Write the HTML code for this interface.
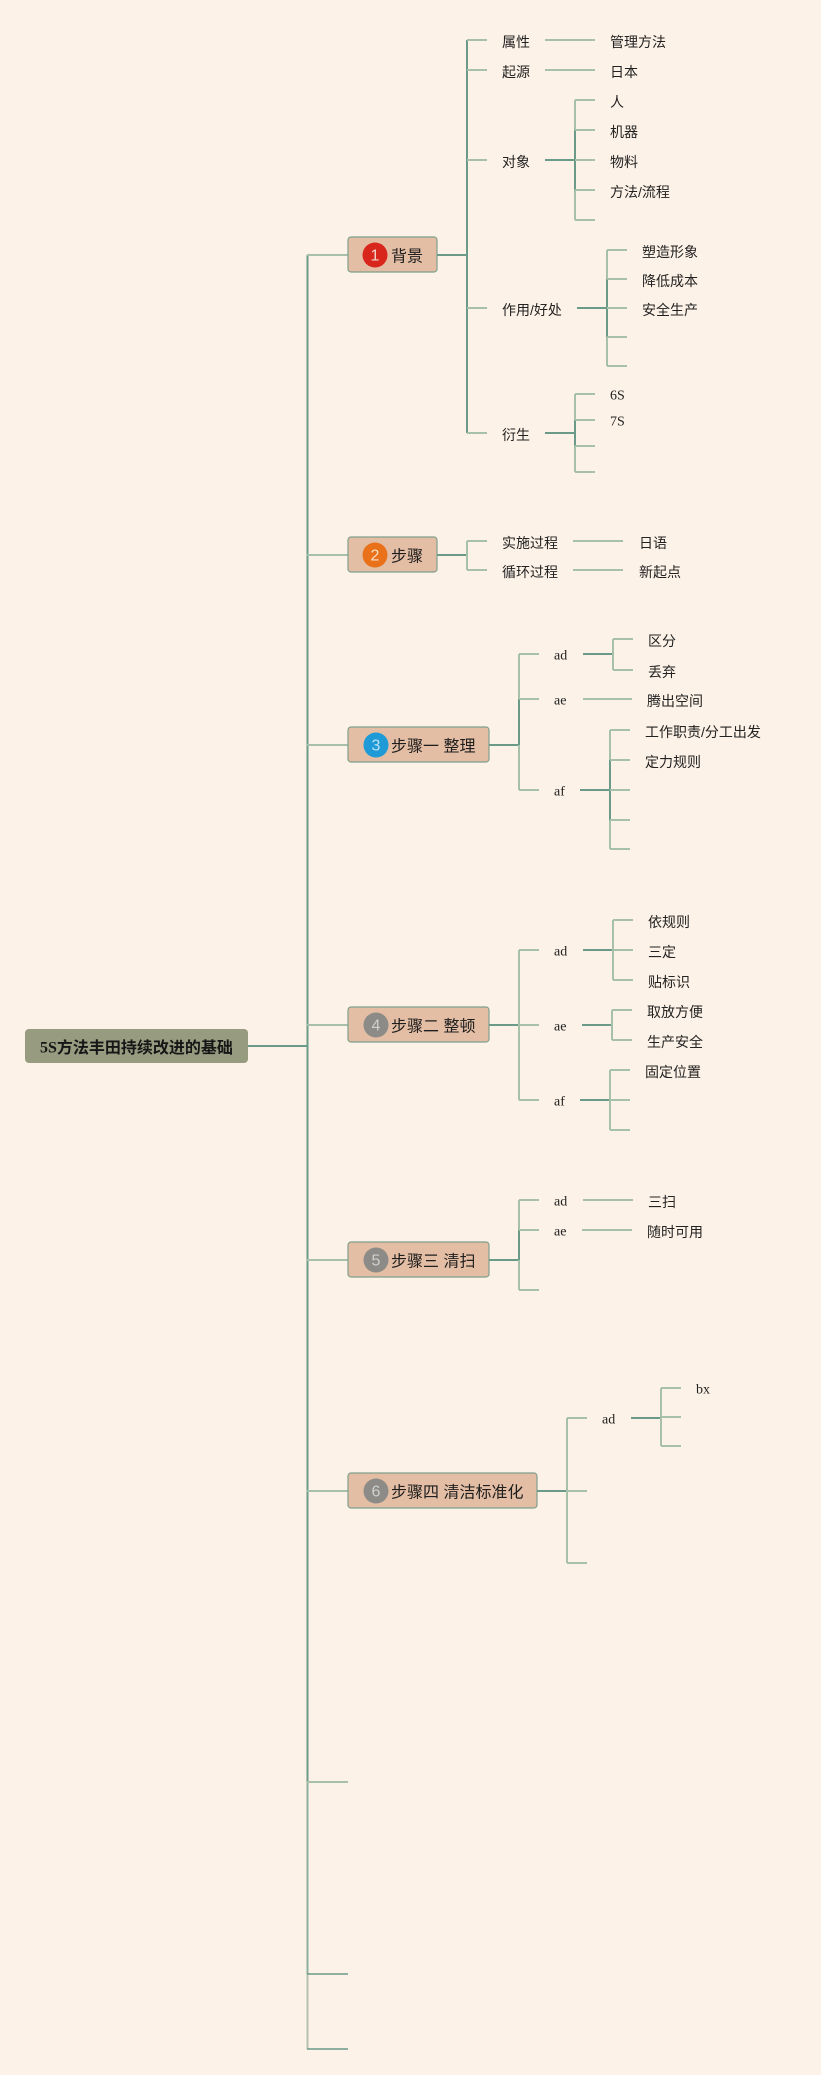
<!DOCTYPE html>
<html>
<head>
<meta charset="utf-8">
<style>
html,body{margin:0;padding:0;background:#fdf2e7;}
svg{display:block;}
text{transform:translateY(1px);}
.t{font-family:"Liberation Sans","Noto Sans CJK SC",sans-serif;font-size:14px;fill:#222;dominant-baseline:central;}
.s{font-family:"Liberation Serif","Noto Serif CJK SC",serif;font-size:14px;fill:#222;dominant-baseline:central;}
.n{font-family:"Liberation Sans","Noto Sans CJK SC",sans-serif;font-size:16px;fill:#1e1e1e;dominant-baseline:central;}
.c{font-family:"Liberation Sans",sans-serif;font-size:16px;dominant-baseline:central;text-anchor:middle;}
.d{stroke:#6a9a88;stroke-width:2;fill:none;}
.l{stroke:#a6c0aa;stroke-width:2;fill:none;}
.box{fill:#e3bda4;stroke:#7fa08c;stroke-width:1.2;}
</style>
</head>
<body>
<svg width="821" height="2075" viewBox="0 0 821 2075" xmlns="http://www.w3.org/2000/svg">
<rect x="0" y="0" width="821" height="2075" fill="#fdf2e7"/>

<!-- trunk -->
<line class="d" x1="307.5" y1="255" x2="307.5" y2="1782"/>
<line x1="307.5" y1="1782" x2="307.5" y2="1974" stroke="#8fb09e" stroke-width="2"/>
<line x1="307.5" y1="1974" x2="307.5" y2="2049" stroke="#b5c3ae" stroke-width="2"/>
<line class="d" x1="248" y1="1046" x2="307.5" y2="1046"/>

<!-- trunk branches -->
<path class="l" d="M307 255H348M307 555H348M307 745H348M307 1025H348M307 1260H348M307 1491H348M307 1782H348"/>
<path d="M307 1974H348M307 2049H348" stroke="#6a9a88" stroke-width="1.5" fill="none"/>

<!-- root -->
<rect x="25" y="1029" width="223" height="34" rx="4" fill="#979b80"/>
<text x="40" y="1047" style="font-family:'Liberation Serif','Noto Sans CJK SC',serif;font-size:16px;font-weight:bold;fill:#161616;dominant-baseline:central;">5S<tspan style="font-family:'Liberation Sans','Noto Sans CJK SC',sans-serif;">方法丰田持续改进的基础</tspan></text>

<!-- Node 1 背景 -->
<rect class="box" x="348" y="237" width="89" height="35" rx="3"/>
<circle cx="375" cy="255" r="12.5" fill="#d9261c"/>
<text class="c" x="375" y="255" fill="#f4d6cc">1</text>
<text class="n" x="391" y="256">背景</text>
<line class="d" x1="437" y1="255" x2="467" y2="255"/>
<line class="d" x1="467" y1="40" x2="467" y2="433"/>
<path class="l" d="M467 40H487M467 70H487M467 160H487M467 308H487M467 433H487"/>
<text class="t" x="502" y="41">属性</text>
<text class="t" x="502" y="71">起源</text>
<text class="t" x="502" y="161">对象</text>
<text class="t" x="502" y="309">作用/好处</text>
<text class="t" x="502" y="434">衍生</text>
<path class="l" d="M545 40H595M545 70H595"/>
<text class="t" x="610" y="41">管理方法</text>
<text class="t" x="610" y="71">日本</text>
<!-- 对象 -->
<line class="d" x1="545" y1="160" x2="575" y2="160"/>
<line class="l" x1="575" y1="100" x2="575" y2="220"/>
<line class="d" x1="575" y1="130" x2="575" y2="190"/>
<path class="l" d="M575 100H595M575 130H595M575 160H595M575 190H595M575 220H595"/>
<text class="t" x="610" y="101">人</text>
<text class="t" x="610" y="131">机器</text>
<text class="t" x="610" y="161">物料</text>
<text class="t" x="610" y="191">方法/流程</text>
<!-- 作用/好处 -->
<line class="d" x1="577" y1="308" x2="607" y2="308"/>
<line class="l" x1="607" y1="250" x2="607" y2="366"/>
<line class="d" x1="607" y1="279" x2="607" y2="337"/>
<path class="l" d="M607 250H627M607 279H627M607 308H627M607 337H627M607 366H627"/>
<text class="t" x="642" y="251">塑造形象</text>
<text class="t" x="642" y="280">降低成本</text>
<text class="t" x="642" y="309">安全生产</text>
<!-- 衍生 -->
<line class="d" x1="545" y1="433" x2="575" y2="433"/>
<line class="l" x1="575" y1="394" x2="575" y2="472"/>
<line class="d" x1="575" y1="420" x2="575" y2="446"/>
<path class="l" d="M575 394H595M575 420H595M575 446H595M575 472H595"/>
<text class="s" x="610" y="395">6S</text>
<text class="s" x="610" y="421">7S</text>

<!-- Node 2 步骤 -->
<rect class="box" x="348" y="537" width="89" height="35" rx="3"/>
<circle cx="375" cy="555" r="12.5" fill="#e8711a"/>
<text class="c" x="375" y="555" fill="#fbe0c8">2</text>
<text class="n" x="391" y="556">步骤</text>
<line class="d" x1="437" y1="555" x2="467" y2="555"/>
<line class="l" x1="467" y1="541" x2="467" y2="570"/>
<path class="l" d="M467 541H487M467 570H487"/>
<text class="t" x="502" y="542">实施过程</text>
<text class="t" x="502" y="571">循环过程</text>
<path class="l" d="M573 541H623M573 570H623"/>
<text class="t" x="639" y="542">日语</text>
<text class="t" x="639" y="571">新起点</text>

<!-- Node 3 步骤一 整理 -->
<rect class="box" x="348" y="727" width="141" height="35" rx="3"/>
<circle cx="376" cy="745" r="12.5" fill="#1e9ad6"/>
<text class="c" x="376" y="745" fill="#bfe3f5">3</text>
<text class="n" x="391" y="746">步骤一 整理</text>
<line class="d" x1="489" y1="745" x2="519" y2="745"/>
<line class="l" x1="519" y1="654" x2="519" y2="790"/>
<line class="d" x1="519" y1="699" x2="519" y2="745"/>
<path class="l" d="M519 654H539M519 699H539M519 790H539"/>
<text class="s" x="554" y="655">ad</text>
<text class="s" x="554" y="700">ae</text>
<text class="s" x="554" y="791">af</text>
<line class="d" x1="583" y1="654" x2="613" y2="654"/>
<line class="l" x1="613" y1="639" x2="613" y2="670"/>
<path class="l" d="M613 639H633M613 670H633"/>
<text class="t" x="648" y="640">区分</text>
<text class="t" x="648" y="671">丢弃</text>
<line class="l" x1="583" y1="699" x2="632" y2="699"/>
<text class="t" x="647" y="700">腾出空间</text>
<line class="d" x1="580" y1="790" x2="610" y2="790"/>
<line class="l" x1="610" y1="730" x2="610" y2="849"/>
<line class="d" x1="610" y1="760" x2="610" y2="820"/>
<path class="l" d="M610 730H630M610 760H630M610 790H630M610 820H630M610 849H630"/>
<text class="t" x="645" y="731">工作职责/分工出发</text>
<text class="t" x="645" y="761">定力规则</text>

<!-- Node 4 步骤二 整顿 -->
<rect class="box" x="348" y="1007" width="141" height="35" rx="3"/>
<circle cx="376" cy="1025" r="12.5" fill="#8c8b88"/>
<text class="c" x="376" y="1025" fill="#d2d0cc">4</text>
<text class="n" x="391" y="1026">步骤二 整顿</text>
<line class="d" x1="489" y1="1025" x2="519" y2="1025"/>
<line class="l" x1="519" y1="950" x2="519" y2="1100"/>
<path class="l" d="M519 950H539M519 1025H539M519 1100H539"/>
<text class="s" x="554" y="951">ad</text>
<text class="s" x="554" y="1026">ae</text>
<text class="s" x="554" y="1101">af</text>
<line class="d" x1="583" y1="950" x2="613" y2="950"/>
<line class="l" x1="613" y1="920" x2="613" y2="980"/>
<path class="l" d="M613 920H633M613 950H633M613 980H633"/>
<text class="t" x="648" y="921">依规则</text>
<text class="t" x="648" y="951">三定</text>
<text class="t" x="648" y="981">贴标识</text>
<line class="d" x1="582" y1="1025" x2="612" y2="1025"/>
<line class="l" x1="612" y1="1010" x2="612" y2="1040"/>
<path class="l" d="M612 1010H632M612 1040H632"/>
<text class="t" x="647" y="1011">取放方便</text>
<text class="t" x="647" y="1041">生产安全</text>
<line class="d" x1="580" y1="1100" x2="610" y2="1100"/>
<line class="l" x1="610" y1="1070" x2="610" y2="1130"/>
<path class="l" d="M610 1070H630M610 1100H630M610 1130H630"/>
<text class="t" x="645" y="1071">固定位置</text>

<!-- Node 5 步骤三 清扫 -->
<rect class="box" x="348" y="1242" width="141" height="35" rx="3"/>
<circle cx="376" cy="1260" r="12.5" fill="#8c8b88"/>
<text class="c" x="376" y="1260" fill="#d2d0cc">5</text>
<text class="n" x="391" y="1261">步骤三 清扫</text>
<line class="d" x1="489" y1="1260" x2="519" y2="1260"/>
<line class="l" x1="519" y1="1200" x2="519" y2="1290"/>
<line class="d" x1="519" y1="1230" x2="519" y2="1260"/>
<path class="l" d="M519 1200H539M519 1230H539M519 1290H539"/>
<text class="s" x="554" y="1201">ad</text>
<text class="s" x="554" y="1231">ae</text>
<path class="l" d="M583 1200H633M582 1230H632"/>
<text class="t" x="648" y="1201">三扫</text>
<text class="t" x="647" y="1231">随时可用</text>

<!-- Node 6 步骤四 清洁标准化 -->
<rect class="box" x="348" y="1473" width="189" height="35" rx="3"/>
<circle cx="376" cy="1491" r="12.5" fill="#8c8b88"/>
<text class="c" x="376" y="1491" fill="#d2d0cc">6</text>
<text class="n" x="391" y="1492">步骤四 清洁标准化</text>
<line class="d" x1="537" y1="1491" x2="567" y2="1491"/>
<line class="l" x1="567" y1="1418" x2="567" y2="1563"/>
<path class="l" d="M567 1418H587M567 1491H587M567 1563H587"/>
<text class="s" x="602" y="1419">ad</text>
<line class="d" x1="631" y1="1418" x2="661" y2="1418"/>
<line class="l" x1="661" y1="1388" x2="661" y2="1446"/>
<path class="l" d="M661 1388H681M661 1417H681M661 1446H681"/>
<text class="s" x="696" y="1389">bx</text>
</svg>
</body>
</html>
